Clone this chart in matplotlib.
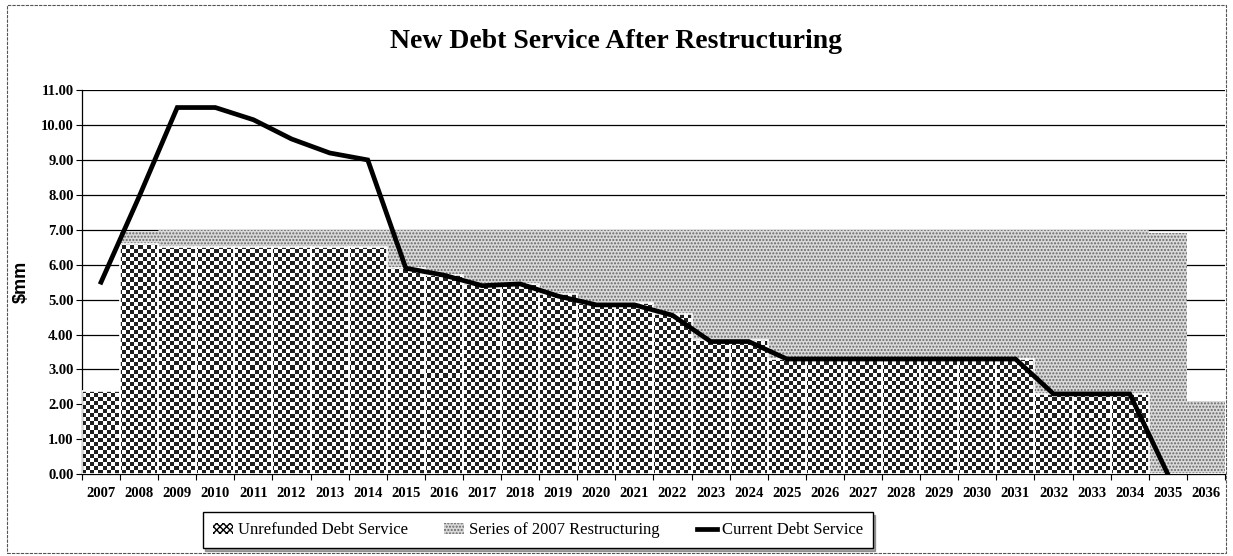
import numpy as np
import matplotlib
matplotlib.use("Agg")
import matplotlib.pyplot as plt
from matplotlib.patches import Patch, Rectangle
from matplotlib.lines import Line2D

years = [str(y) for y in range(2007, 2037)]

# $mm
unrefunded = [2.38, 6.60, 6.50, 6.50, 6.50, 6.50, 6.50, 6.50, 5.90, 5.70,
              5.45, 5.45, 5.15, 4.90, 4.90, 4.60, 3.85, 3.85, 3.30, 3.30,
              3.30, 3.30, 3.30, 3.30, 3.30, 2.30, 2.30, 2.30, 0.00, 0.00]
series_2007 = [0.00, 0.35, 0.50, 0.50, 0.50, 0.50, 0.50, 0.50, 1.10, 1.30,
               1.55, 1.55, 1.85, 2.10, 2.10, 2.40, 3.15, 3.15, 3.70, 3.70,
               3.70, 3.70, 3.70, 3.70, 3.70, 4.70, 4.70, 4.70, 6.90, 2.10]
current = [5.50, 7.95, 10.50, 10.50, 10.15, 9.60, 9.20, 9.00, 5.90, 5.70,
           5.40, 5.45, 5.10, 4.85, 4.85, 4.55, 3.80, 3.80, 3.30, 3.30,
           3.30, 3.30, 3.30, 3.30, 3.30, 2.30, 2.30, 2.30, 0.00]

serif = "Liberation Serif"

fig = plt.figure(figsize=(12.33, 5.56), dpi=100)
ax = fig.add_axes([0.0665, 0.147, 0.927, 0.691])

x = np.arange(len(years))
ax.set_xlim(-0.5, len(years) - 0.5)
ax.set_ylim(0, 11)

# grid behind the bars
ax.set_axisbelow(True)
ax.yaxis.grid(True, color="black", linewidth=0.9)

# unrefunded bars: checker texture clipped to each bar
clip_bars = ax.bar(x, unrefunded, width=1.0, facecolor="none", linewidth=0)
ny, nx = 96, 285
ii, jj = np.indices((ny, nx))
checker = ((ii + jj) % 2).astype(float)
for b in clip_bars:
    if b.get_height() <= 0:
        continue
    im = ax.imshow(checker, cmap="gray", vmin=-0.15, vmax=1.0,
                   interpolation="nearest", aspect="auto",
                   extent=(-0.5, len(years) - 0.5, 0, 11), origin="lower", zorder=2)
    im.set_clip_path(b)
ax.bar(x, unrefunded, width=1.0, facecolor="none", edgecolor="white",
       linewidth=1.2, zorder=3)

# series of 2007 restructuring: stippled gray
ax.bar(x, series_2007, bottom=unrefunded, width=1.0, facecolor="#dadada",
       hatch=".....", edgecolor="#666666", linewidth=0, zorder=2)

# current debt service line
ax.plot(x[:len(current)], current, color="black", linewidth=3.4, zorder=5,
        solid_joinstyle="miter")

# ticks
ax.set_yticks(np.arange(0, 12, 1))
ax.set_yticklabels([f"{v:.2f}" for v in range(0, 12)], fontfamily=serif,
                   fontweight="bold", fontsize=10.5)
ax.set_xticks(x)
ax.set_xticklabels(years, fontfamily=serif, fontweight="bold", fontsize=10.5)
ax.set_xticks(np.arange(-0.5, len(years)), minor=True)
ax.tick_params(axis="x", which="major", length=0, pad=9)
ax.tick_params(axis="x", which="minor", length=4, width=0.8, direction="out")
ax.tick_params(axis="y", length=4, width=0.8, direction="out", pad=2)

for side in ["top", "right"]:
    ax.spines[side].set_visible(False)
ax.spines["left"].set_linewidth(0.9)
ax.spines["bottom"].set_linewidth(0.9)

ax.set_ylabel("$mm", fontfamily="Liberation Sans", fontweight="bold",
              fontsize=13, labelpad=8)

fig.text(0.5, 0.926, "New Debt Service After Restructuring", ha="center",
         va="center", fontfamily=serif, fontweight="bold", fontsize=20)

handles = [
    Patch(facecolor="white", edgecolor="black", hatch="xxxxx", linewidth=0),
    Patch(facecolor="#dadada", edgecolor="#666666", hatch=".....", linewidth=0),
    Line2D([0], [0], color="black", linewidth=3.4),
]
labels = ["Unrefunded Debt Service", "Series of 2007 Restructuring",
          "Current Debt Service"]
leg = fig.legend(handles, labels, loc="center", bbox_to_anchor=(0.436, 0.046),
                 ncol=3, frameon=True, fancybox=False, shadow=True,
                 edgecolor="black", prop={"family": serif, "size": 12},
                 handlelength=1.2, handletextpad=0.3, columnspacing=2.2,
                 borderpad=0.6, borderaxespad=0.2)
leg.get_frame().set_linewidth(1.0)

# outer chart border
fig.patches.append(Rectangle((0.006, 0.006), 0.988, 0.985, transform=fig.transFigure,
                             fill=False, edgecolor="#555555", linewidth=0.8,
                             linestyle=(0, (3, 1))))

fig.savefig("out.png", dpi=100)
